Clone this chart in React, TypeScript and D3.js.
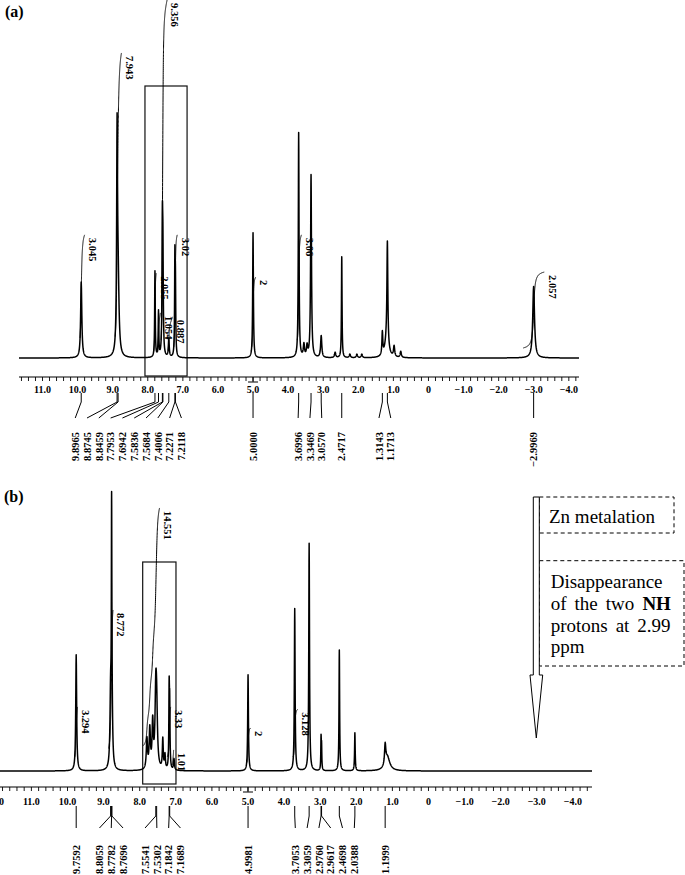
import React from 'react';
import * as d3 from 'd3';

// ---------- (a) free base: peak list ----------
const peakPpmA = [9.8965, 8.8745, 8.8459, 7.7953, 7.6942, 7.5836, 7.5684, 7.4006, 7.2271, 7.2118, 5.0, 3.6996, 3.55, 3.46, 3.3469, 3.057, 2.66, 2.4717, 2.24, 2.04, 1.9, 1.3143, 1.19, 1.1713, 0.98, 0.79, -2.9969];
const peakHeightA = [21.2, 58, 20, 24, 12.6, 34, 24, 5, 26, 18, 35, 62.8, 3.5, 3, 51, 6.1, 1.5, 28.2, 1, 1, 1, 6.4, 5, 28, 3, 1.7, 20];
const peakWidthA = [0.02, 0.015, 0.03, 0.01, 0.01, 0.012, 0.012, 0.015, 0.01, 0.01, 0.012, 0.012, 0.02, 0.02, 0.015, 0.02, 0.02, 0.01, 0.02, 0.02, 0.02, 0.015, 0.06, 0.015, 0.02, 0.02, 0.03];
const pickedA = [9.8965, 8.8745, 8.8459, 7.7953, 7.6942, 7.5836, 7.5684, 7.4006, 7.2271, 7.2118, 5.0, 3.6996, 3.3469, 3.057, 2.4717, 1.3143, 1.1713, -2.9969];
const integralLabelA = ['3.045', '7.943', '9.356', '2.055', '1.054', '0.887', '3.02', '2', '3.06', '2.057'];
const integralFromA = [9.93, 8.93, 7.62, 7.83, 7.72, 7.42, 7.26, 5.04, 3.74, -2.7];
const integralToA = [9.8, 8.75, 7.45, 7.76, 7.64, 7.3, 7.16, 4.92, 3.62, -3.3];
const integralLowA = [5.6, 6, 5, 1.8, 1.6, 1.9, 3, 3, 5, 2.8];
const integralHighA = [34.4, 85.2, 100, 23.7, 12.6, 11.5, 34.4, 22.6, 34.4, 24];

// ---------- (b) Zn complex ----------
const peakPpmB = [9.7592, 8.8059, 8.7782, 8.7696, 7.8, 7.72, 7.64, 7.5541, 7.5302, 7.36, 7.3, 7.1842, 7.1689, 7.05, 4.9981, 3.7053, 3.3059, 2.976, 2.9617, 2.4698, 2.0388, 1.1999, 1.14];
const peakHeightB = [41.3, 25, 74, 20, 10.7, 14, 16, 25, 18, 10.7, 5, 27, 20, 4, 34.2, 57.7, 81, 11, 8, 43, 13.5, 7, 5];
const peakWidthB = [0.015, 0.02, 0.008, 0.02, 0.02, 0.02, 0.02, 0.025, 0.025, 0.015, 0.015, 0.01, 0.01, 0.015, 0.012, 0.012, 0.012, 0.008, 0.008, 0.01, 0.01, 0.02, 0.08];
const pickedB = [9.7592, 8.8059, 8.7782, 8.7696, 7.5541, 7.5302, 7.1842, 7.1689, 4.9981, 3.7053, 3.3059, 2.976, 2.9617, 2.4698, 2.0388, 1.1999];
const integralLabelB = ['3.294', '8.772', '14.551', '3.33', '1.01', '2', '3.128'];
const integralFromB = [9.8, 8.86, 7.9, 7.24, 7.1, 5.03, 3.75];
const integralToB = [9.72, 8.74, 7.45, 7.14, 7.06, 4.93, 3.62];
const integralLowB = [5, 8, 9, 5, 2, 3, 5];
const integralHighB = [22.8, 57.3, 93.6, 22.8, 7.5, 15.3, 22];

const FONT = "'Liberation Serif','Times New Roman',serif";
const fmtPick = d3.format('.4f');
const fmtTick = (v: number) => (v === 0 ? '0' : d3.format('.1f')(v));

const lorentz = (ppm: number[], h: number[], w: number[]) => (p: number) => {
  let s = 0;
  for (let i = 0; i < ppm.length; i++) {
    const d = (p - ppm[i]) / w[i];
    s += h[i] / (1 + d * d);
  }
  return s;
};

// sampling grid: coarse everywhere, dense round each line
const samplePoints = (hi: number, lo: number, ppm: number[], w: number[]) => {
  const pts = d3.range(hi, lo, -0.01);
  pts.push(lo);
  ppm.forEach((c, i) => {
    for (let k = -30; k <= 30; k++) pts.push(c + k * w[i] * 0.3);
  });
  return pts.filter((p) => p <= hi && p >= lo).sort((a, b) => b - a);
};

// spread peak labels like the NMR program does: clusters centred on their peak range
const spreadLabels = (xs: number[], gap: number) => {
  let groups = xs.map((v, i) => ({ lo: v, hi: v, idx: [i] }));
  const place = (g: { lo: number; hi: number; idx: number[] }) => {
    const c = (g.lo + g.hi) / 2;
    const n = g.idx.length;
    return g.idx.map((_, k) => c + (k - (n - 1) / 2) * gap);
  };
  let merged = true;
  while (merged) {
    merged = false;
    for (let i = 0; i < groups.length - 1; i++) {
      const a = place(groups[i]);
      const b = place(groups[i + 1]);
      if (b[0] - a[a.length - 1] < gap * 1.6) {
        groups.splice(i, 2, {
          lo: groups[i].lo,
          hi: groups[i + 1].hi,
          idx: [...groups[i].idx, ...groups[i + 1].idx],
        });
        merged = true;
        break;
      }
    }
  }
  const out: number[] = new Array(xs.length);
  groups.forEach((g) => place(g).forEach((v, k) => (out[g.idx[k]] = v)));
  return out;
};

type PanelProps = {
  x: d3.ScaleLinear<number, number>;
  y: d3.ScaleLinear<number, number>;
  ppm: number[];
  h: number[];
  w: number[];
  picks: number[];
  intLabel: string[];
  intFrom: number[];
  intTo: number[];
  intLow: number[];
  intHigh: number[];
  axisY: number;
  tickLabelY: number;
  tickMax: number;
  tickMin: number;
  lead: number[];
  box: number[];
};

const Panel = (p: PanelProps) => {
  const { x, y } = p;
  const I = lorentz(p.ppm, p.h, p.w);
  const [hi, lo] = x.domain();
  const pts = samplePoints(hi, lo, p.ppm, p.w);
  const line = d3.line<number>().x((q) => x(q)).y((q) => y(I(q)));
  const intLine = d3.line<number[]>().x((d) => x(d[0])).y((d) => y(d[1]));

  const integrals = p.intLabel.map((lab, i) => {
    const n = 300;
    const from = p.intFrom[i];
    const to = p.intTo[i];
    const ps = d3.range(n + 1).map((k) => from + ((to - from) * k) / n);
    const cum = [0];
    let acc = 0;
    for (let k = 1; k <= n; k++) {
      acc += (I(ps[k - 1]) + I(ps[k])) / 2;
      cum.push(acc);
    }
    const lowV = p.intLow[i];
    const highV = p.intHigh[i];
    const data = ps.map((q, k) => [q, lowV + ((highV - lowV) * cum[k]) / acc]);
    return { lab, d: intLine(data) || '', lx: x(to) + 8, ly: y(highV) + 3 };
  });

  const minor = d3
    .range(Math.floor(hi * 5), Math.ceil(lo * 5) - 1, -1)
    .map((k) => k / 5)
    .filter((v) => v <= hi && v >= lo);
  const major = d3.range(p.tickMax, p.tickMin - 1, -1);

  const picks = [...p.picks].sort((a, b) => b - a);
  const px = picks.map((v) => x(v));
  const lx = spreadLabels(px, 11.8);
  const [y0, y1, y2, yLab] = p.lead;
  const [bl, br, bt, bb] = p.box;

  return (
    <g>
      <rect x={x(bl)} y={bt} width={x(br) - x(bl)} height={bb - bt} fill="none" stroke="#111" strokeWidth={1.2} />
      <path d={line(pts) || ''} fill="none" stroke="#000" strokeWidth={1.5} strokeLinejoin="round" />
      {integrals.map((g, i) => (
        <g key={i}>
          <path d={g.d} fill="none" stroke="#000" strokeWidth={1} />
          <text
            transform={`translate(${g.lx},${g.ly}) rotate(90)`}
            dy="0.35em"
            fontSize={10.5}
            fontWeight="bold"
            fontFamily={FONT}
          >
            {g.lab}
          </text>
        </g>
      ))}
      {/* axis */}
      <line x1={x(hi)} x2={x(lo)} y1={p.axisY} y2={p.axisY} stroke="#000" strokeWidth={1.2} />
      {minor.map((v, i) => (
        <line key={i} x1={x(v)} x2={x(v)} y1={p.axisY} y2={p.axisY + 4} stroke="#000" strokeWidth={0.9} />
      ))}
      <line x1={x(5)} x2={x(5)} y1={p.axisY} y2={p.axisY + 5} stroke="#000" strokeWidth={1} />
      <line x1={x(5) - 5} x2={x(5) + 5} y1={p.axisY + 5} y2={p.axisY + 5} stroke="#000" strokeWidth={1} />
      {major.map((v) => (
        <text
          key={v}
          x={x(v)}
          y={p.tickLabelY}
          textAnchor="middle"
          fontSize={10}
          fontWeight="bold"
          fontFamily={FONT}
        >
          {fmtTick(v)}
        </text>
      ))}
      {/* peak picking */}
      {picks.map((v, i) => (
        <g key={i}>
          <path
            d={`M${px[i]},${y0}L${px[i]},${y1}L${lx[i]},${y2}`}
            fill="none"
            stroke="#000"
            strokeWidth={1}
          />
          <text
            transform={`translate(${lx[i]},${yLab}) rotate(-90)`}
            textAnchor="end"
            dy="0.35em"
            fontSize={10.5}
            fontWeight="bold"
            fontFamily={FONT}
          >
            {fmtPick(v)}
          </text>
        </g>
      ))}
    </g>
  );
};

const xA = d3.scaleLinear().domain([11.67, -4.29]).range([19, 579]);
const yA = d3.scaleLinear().domain([0, 100]).range([358, 0]);
const xB = d3.scaleLinear().domain([11.87, -4.53]).range([0, 592]);
const yB = d3.scaleLinear().domain([0, 100]).range([771, 490]);

const App = () => {
  const shaftL = 533.3;
  const shaftR = 539.3;
  return (
    <svg
      width={685}
      height={875}
      viewBox="0 0 685 875"
      style={{ position: 'absolute', left: 0, top: 0, background: '#fff' }}
    >
      <rect width={685} height={875} fill="#fff" />
      <text x={5} y={17} fontSize={16} fontWeight="bold" fontFamily={FONT}>
        (a)
      </text>
      <Panel
        x={xA}
        y={yA}
        ppm={peakPpmA}
        h={peakHeightA}
        w={peakWidthA}
        picks={pickedA}
        intLabel={integralLabelA}
        intFrom={integralFromA}
        intTo={integralToA}
        intLow={integralLowA}
        intHigh={integralHighA}
        axisY={377}
        tickLabelY={392.5}
        tickMax={11}
        tickMin={-4}
        lead={[393, 402, 418, 432]}
        box={[8.08, 6.88, 86, 376]}
      />

      <text x={4} y={502} fontSize={16} fontWeight="bold" fontFamily={FONT}>
        (b)
      </text>
      <Panel
        x={xB}
        y={yB}
        ppm={peakPpmB}
        h={peakHeightB}
        w={peakWidthB}
        picks={pickedB}
        intLabel={integralLabelB}
        intFrom={integralFromB}
        intTo={integralToB}
        intLow={integralLowB}
        intHigh={integralHighB}
        axisY={787}
        tickLabelY={804.5}
        tickMax={12}
        tickMin={-4}
        lead={[806, 816, 828, 845]}
        box={[7.917, 6.995, 562, 784]}
      />

      {/* annotation boxes */}
      <rect x={shaftR} y={497} width={134.7} height={36} fill="none" stroke="#000" strokeWidth={1} strokeDasharray="4,3" />
      <rect x={shaftR} y={560.7} width={144.7} height={105.3} fill="none" stroke="#000" strokeWidth={1} strokeDasharray="4,3" />
      <path
        d={`M${shaftL},497L${shaftR},497L${shaftR},675L542.7,675L536.3,738L530,675L${shaftL},675Z`}
        fill="#fff"
        stroke="#000"
        strokeWidth={1}
      />
      <g fontFamily={FONT} fontSize={19} fill="#000">
        <text x={549} y={523}>Zn metalation</text>
        <text x={550.7} y={588}>Disappearance</text>
        <text x={550.7} y={610} style={{ wordSpacing: '3.3px' }}>
          of the two <tspan fontWeight="bold">NH</tspan>
        </text>
        <text x={550.7} y={631.7} style={{ wordSpacing: '3.2px' }}>
          protons at 2.99
        </text>
        <text x={550.7} y={652.7}>ppm</text>
      </g>
    </svg>
  );
};

export default App;
